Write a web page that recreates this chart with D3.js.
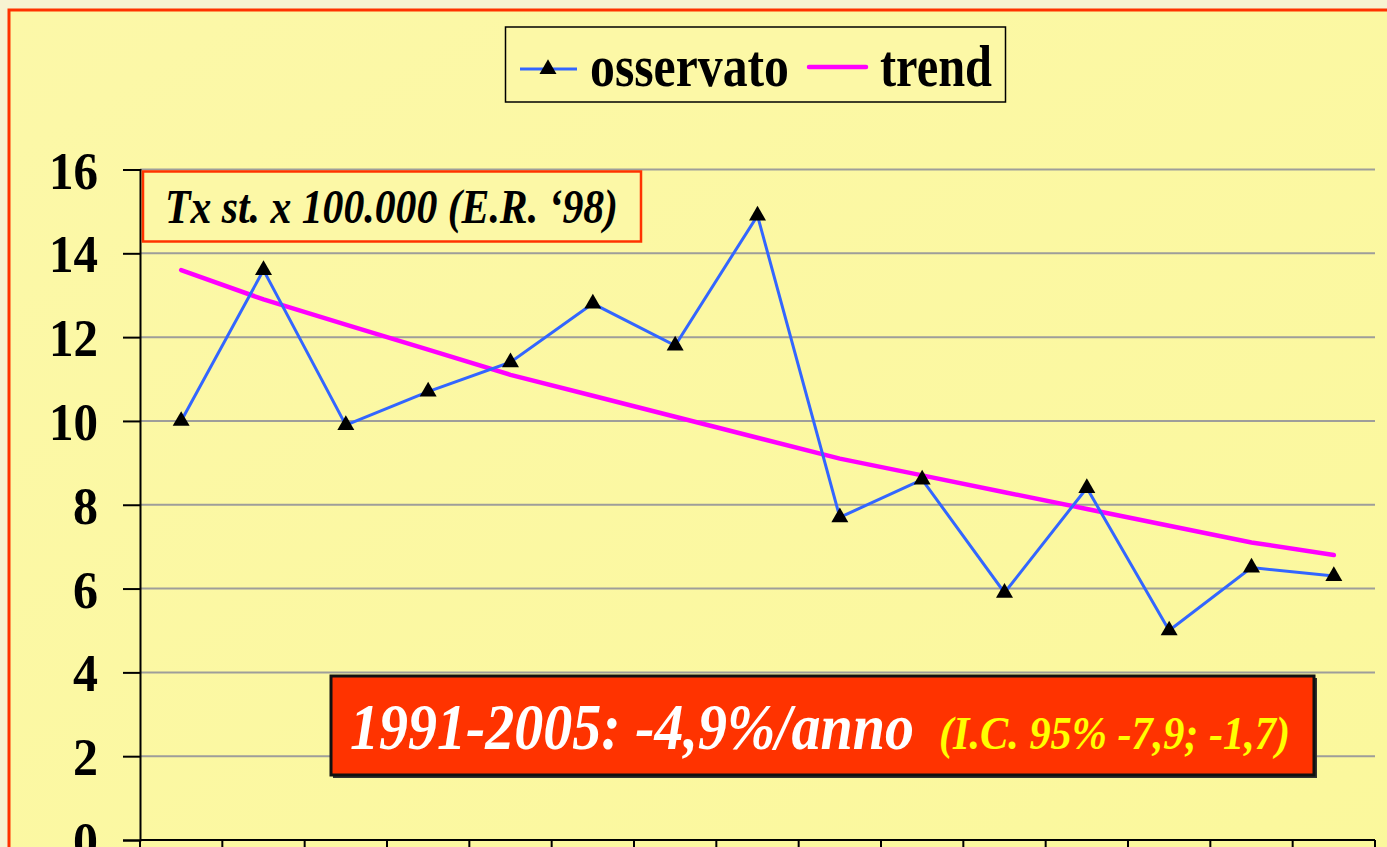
<!DOCTYPE html>
<html>
<head>
<meta charset="utf-8">
<script src="https://cdn.jsdelivr.net/npm/d3@7"></script>
<style>
  html, body { margin: 0; padding: 0; background: #F7F3D2; }
  svg { display: block; }
  text { font-family: "Liberation Serif", "Times New Roman", serif; font-weight: bold; }
</style>
</head>
<body>
<script>
// ---- data ----
const years = [1991,1992,1993,1994,1995,1996,1997,1998,1999,2000,2001,2002,2003,2004,2005];
const observed = [10.0,13.6,9.9,10.7,11.4,12.8,11.8,14.9,7.7,8.6,5.9,8.4,5.0,6.5,6.3];
const trend = [13.6,12.9,12.3,11.7,11.1,10.6,10.1,9.6,9.1,8.7,8.3,7.9,7.5,7.1,6.8];
const yTicks = [0,2,4,6,8,10,12,14,16];
const legendLabels = ["osservato","trend"];
const noteText = "Tx st. x 100.000 (E.R. \u201898)";
const mainText = "1991-2005: -4,9%/anno";
const ciText = "(I.C. 95% -7,9; -1,7)";

const W = 1387, H = 847;
const svg = d3.select("body").append("svg").attr("width", W).attr("height", H);

// background
const defs = svg.append("defs");
const grad = defs.append("linearGradient").attr("id","bg").attr("x1","0").attr("y1","0").attr("x2","1").attr("y2","1");
grad.append("stop").attr("offset","0").attr("stop-color","#FCF8A8");
grad.append("stop").attr("offset","1").attr("stop-color","#FBF89C");
svg.append("rect").attr("width",W).attr("height",H).attr("fill","#F7F3D2");
svg.append("rect").attr("x",9).attr("y",10).attr("width",W+20).attr("height",H+20)
  .attr("fill","url(#bg)").attr("stroke","#FF3300").attr("stroke-width",3);

// scales
const x0 = 140, x1 = 1375, yTop = 169.5, yBot = 840;
const xBand = d3.scaleBand().domain(years).range([x0, x1]).padding(0);
const xc = d => xBand(d) + xBand.bandwidth()/2;
const y = d3.scaleLinear().domain([0,16]).range([yBot, yTop]);

// gridlines
svg.append("g").selectAll("line").data(yTicks.filter(t => t > 0)).join("line")
  .attr("x1", x0).attr("x2", x1).attr("y1", d => y(d)).attr("y2", d => y(d))
  .attr("stroke","#9E9E9A").attr("stroke-width",2);

// y axis
const yAxis = d3.axisLeft(y).tickValues(yTicks).tickSize(17).tickPadding(25).tickFormat(d3.format("d"));
const gy = svg.append("g").attr("transform", `translate(${x0},0)`).call(yAxis);
gy.select(".domain").attr("stroke","#000").attr("stroke-width",2);
gy.selectAll(".tick line").attr("stroke","#000").attr("stroke-width",2);
gy.selectAll(".tick text").attr("font-size",53).attr("fill","#000")
  .attr("font-family","'Liberation Serif', serif").attr("font-weight","bold").attr("dy","0.35em")
  .attr("textLength",49).attr("lengthAdjust","spacingAndGlyphs")
  .each(function(d){ if (d < 10) d3.select(this).attr("textLength",25); });

// x axis (ticks at band boundaries)
const bounds = years.map(d => xBand(d)).concat([x1]);
svg.append("line").attr("x1",x0).attr("x2",x1).attr("y1",yBot).attr("y2",yBot)
  .attr("stroke","#000").attr("stroke-width",2);
svg.append("g").selectAll("line").data(bounds).join("line")
  .attr("x1", d => d).attr("x2", d => d).attr("y1", yBot).attr("y2", yBot + 17)
  .attr("stroke","#000").attr("stroke-width",2);

// note box
svg.append("rect").attr("x",143).attr("y",171.5).attr("width",498).attr("height",70)
  .attr("fill","#FCF8A6").attr("stroke","#FF3300").attr("stroke-width",2.5);
svg.append("text").attr("x",165).attr("y",223).attr("font-size",48).attr("font-style","italic")
  .attr("textLength",453).attr("lengthAdjust","spacingAndGlyphs").text(noteText);

// trend line
const line = d3.line().x((d,i) => xc(years[i])).y(d => y(d));
svg.append("path").datum(trend).attr("d", line).attr("fill","none")
  .attr("stroke","#FF00FF").attr("stroke-width",4.5).attr("stroke-linecap","round");

// observed line
svg.append("path").datum(observed).attr("d", line).attr("fill","none")
  .attr("stroke","#3366FF").attr("stroke-width",3);

// markers
const tri = d3.symbol().type(d3.symbolTriangle).size(125);
svg.append("g").selectAll("path").data(observed).join("path")
  .attr("d", tri).attr("fill","#000")
  .attr("transform", (d,i) => `translate(${xc(years[i])},${y(d)})`);

// legend
const lg = svg.append("g");
lg.append("rect").attr("x",505.5).attr("y",27).attr("width",500).attr("height",75)
  .attr("fill","#FCF8A6").attr("stroke","#000").attr("stroke-width",1.5);
lg.append("line").attr("x1",520).attr("x2",577).attr("y1",69).attr("y2",69)
  .attr("stroke","#3366FF").attr("stroke-width",3);
lg.append("path").attr("d",tri).attr("fill","#000").attr("transform","translate(548,69)");
lg.append("line").attr("x1",809).attr("x2",866).attr("y1",67).attr("y2",67)
  .attr("stroke","#FF00FF").attr("stroke-width",4.5).attr("stroke-linecap","round");
lg.append("text").attr("x",590).attr("y",86).attr("font-size",60)
  .attr("textLength",199).attr("lengthAdjust","spacingAndGlyphs").text(legendLabels[0]);
lg.append("text").attr("x",880).attr("y",86).attr("font-size",60)
  .attr("textLength",112).attr("lengthAdjust","spacingAndGlyphs").text(legendLabels[1]);

// red box
svg.append("rect").attr("x",333).attr("y",678).attr("width",984).attr("height",100).attr("fill","#333");
svg.append("rect").attr("x",331).attr("y",676).attr("width",983).attr("height",99)
  .attr("fill","#FF3300").attr("stroke","#111").attr("stroke-width",3);
const boxText = svg.append("text").attr("y",749).attr("font-style","italic");
boxText.append("tspan").attr("x",350).attr("font-size",66).attr("fill","#FFFFFF")
  .attr("textLength",564).attr("lengthAdjust","spacingAndGlyphs").text(mainText);
boxText.append("tspan").attr("x",939).attr("font-size",46).attr("fill","#FFFF00")
  .attr("textLength",351).attr("lengthAdjust","spacingAndGlyphs").text(ciText);
</script>
</body>
</html>
